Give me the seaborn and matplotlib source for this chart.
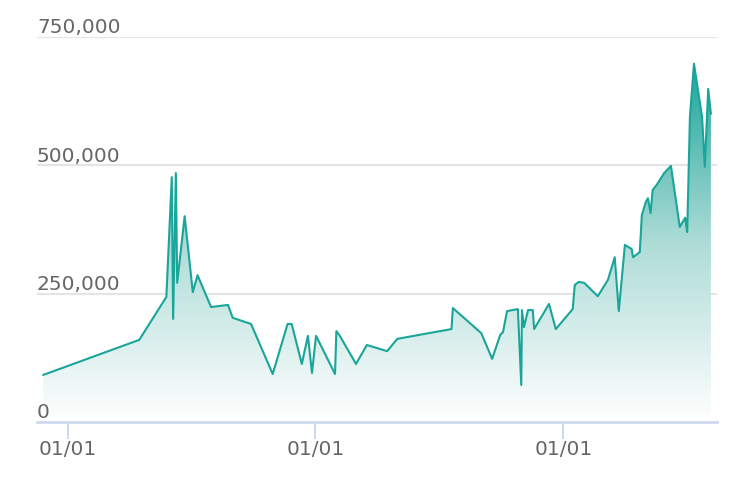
import numpy as np
import pandas as pd
import matplotlib
matplotlib.use("Agg")
import matplotlib.pyplot as plt
import matplotlib.dates as mdates
from matplotlib.colors import LinearSegmentedColormap
import seaborn as sns

# daily values
dates = [
    "2018-11-25", "2019-04-16", "2019-05-26", "2019-06-03", "2019-06-05", "2019-06-09",
    "2019-06-11", "2019-06-22", "2019-07-04", "2019-07-11", "2019-07-31", "2019-08-25",
    "2019-09-01", "2019-09-28", "2019-10-30", "2019-11-21", "2019-11-27", "2019-12-12",
    "2019-12-21", "2019-12-27", "2020-01-02", "2020-01-30", "2020-02-01", "2020-02-06",
    "2020-03-01", "2020-03-17", "2020-04-16", "2020-05-01", "2020-07-20", "2020-07-22",
    "2020-09-02", "2020-09-18", "2020-09-30", "2020-10-04", "2020-10-10", "2020-10-26",
    "2020-10-31", "2020-11-01", "2020-11-04", "2020-11-10", "2020-11-17", "2020-11-19",
    "2020-12-11", "2020-12-21", "2021-01-15", "2021-01-18", "2021-01-24", "2021-02-01",
    "2021-02-21", "2021-03-08", "2021-03-18", "2021-03-24", "2021-04-02", "2021-04-12",
    "2021-04-14", "2021-04-24", "2021-04-27", "2021-05-03", "2021-05-06", "2021-05-10",
    "2021-05-13", "2021-05-19", "2021-05-30", "2021-06-09", "2021-06-22", "2021-06-30",
    "2021-07-03", "2021-07-07", "2021-07-13", "2021-07-25", "2021-07-29", "2021-08-03",
    "2021-08-07",
]
values = [
    91600, 160000, 243600, 477000, 200700, 485000,
    271000, 401000, 253000, 286000, 224000, 228000,
    203000, 191000, 93500, 191000, 191000, 113000,
    168000, 95500, 168000, 93500, 177000, 168000,
    113000, 150000, 138000, 162000, 181000, 222000,
    173000, 123000, 170000, 175000, 216000, 220000,
    72000, 218000, 185000, 218000, 218000, 181000,
    230000, 181000, 220000, 267000, 273000, 271000,
    245000, 277000, 321000, 216000, 345000, 337000,
    321000, 331000, 403000, 429000, 436000, 407000,
    452000, 462000, 485000, 499000, 380000, 398000,
    370000, 594000, 698000, 594000, 497000, 649000,
    600000,
]
y_ticks = [0, 250000, 500000, 750000]

df = pd.DataFrame({"date": pd.to_datetime(dates), "value": values})

line_color = "#1aa59a"
text_color = "#666666"

sns.set_style("white")
plt.rcParams["font.family"] = ["DejaVu Sans"]

fig = plt.figure(figsize=(7.46, 4.86), dpi=100)
ax = fig.add_axes([37 / 746, 1 - 422 / 486, 680 / 746, 385 / 486])

sns.lineplot(data=df, x="date", y="value", ax=ax, color=line_color, linewidth=1.5)

# gradient fill under the line
xnum = mdates.date2num(df["date"])
poly = ax.fill_between(df["date"], 0, df["value"], facecolor="none", edgecolor="none")
cmap = LinearSegmentedColormap.from_list("fade", ["#ffffff", "#aedcd7", "#1aa59a"])
grad = np.linspace(0, 1, 256).reshape(-1, 1)
img = ax.imshow(grad, aspect="auto", cmap=cmap, origin="lower",
                extent=[xnum.min(), xnum.max(), 0, max(values)], zorder=1)
img.set_clip_path(poly.get_paths()[0], transform=ax.transData)

pad = 9
ax.set_xlim(xnum.min() - pad, xnum.max() + pad)
ax.set_ylim(0, 750000)

# gridlines and axis
ax.set_yticks(y_ticks)
ax.set_yticklabels([])
ax.tick_params(axis="y", length=0)
ax.grid(axis="y", color="#e4e4e4", linewidth=1.5)
ax.set_axisbelow(True)
for s in ["top", "right", "left"]:
    ax.spines[s].set_visible(False)
ax.spines["bottom"].set_color("#d0d8ee")
ax.spines["bottom"].set_linewidth(2)

for t in y_ticks:
    ax.text(0, t + 7000, f"{t:,}", transform=ax.get_yaxis_transform(),
            ha="left", va="baseline", fontsize=14.5, color=text_color)

ax.xaxis.set_major_locator(mdates.YearLocator())
ax.xaxis.set_major_formatter(mdates.DateFormatter("%m/%d"))
ax.tick_params(axis="x", direction="out", length=12, width=1.5, color="#d0d8ee",
               labelsize=14.5, labelcolor=text_color, pad=1, bottom=True)
ax.set_xlabel("")
ax.set_ylabel("")

fig.savefig("out.png", dpi=100)
